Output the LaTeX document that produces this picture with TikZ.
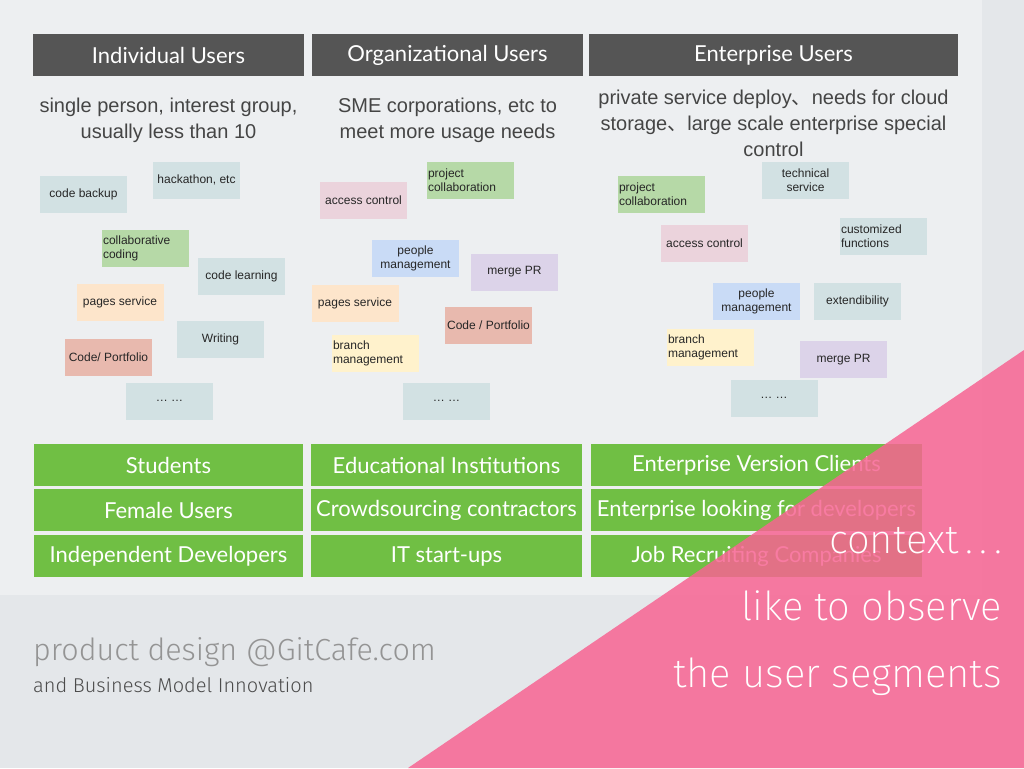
\documentclass[tikz,border=0pt]{standalone}
\usepackage{fontspec}
\setmainfont{Liberation Sans}
\newfontfamily\gill{Lato}
\newfontfamily\thinf{Fira Sans Light}
\newfontfamily\xthin{Fira Sans ExtraLight}
\newfontfamily\cjk{Noto Sans CJK SC}
\definecolor{bgout}{HTML}{E4E7EA}
\definecolor{slide}{HTML}{EDEFF1}
\definecolor{hdr}{HTML}{555555}
\definecolor{grn}{HTML}{70BF44}
\definecolor{nteal}{HTML}{D2E1E3}
\definecolor{ngreen}{HTML}{B6D9A7}
\definecolor{npeach}{HTML}{FDE5CB}
\definecolor{nsalmon}{HTML}{E8B9AE}
\definecolor{npink}{HTML}{EBD3DC}
\definecolor{nblue}{HTML}{C9DBF6}
\definecolor{npurple}{HTML}{DCD3E9}
\definecolor{nyellow}{HTML}{FFF2CC}
\definecolor{pnk}{HTML}{F76492}
\definecolor{desc}{HTML}{454545}
\tikzset{
  hdrbox/.style={fill=hdr, text=white, inner sep=0, minimum height=42, font=\gill\fontsize{22}{26}\selectfont},
  grnbox/.style={fill=grn, text=white, inner sep=0, minimum height=42, font=\gill\fontsize{22}{26}\selectfont},
  desctext/.style={text=desc, align=center, inner sep=0, font=\fontsize{20}{26}\selectfont},
  note/.style={inner sep=0, minimum width=87, minimum height=37, align=center, text=black!85, font=\fontsize{12}{14}\selectfont},
  lnote/.style={note, text width=85, align=left},
  pinktext/.style={text=white, anchor=base east, inner sep=0, font=\xthin\fontsize{40}{44}\selectfont},
}
\begin{document}
\begin{tikzpicture}[x=1pt, y=-1pt]
\useasboundingbox (0,0) rectangle (1024,768);
\fill[bgout] (0,0) rectangle (1024,768);
\fill[slide] (0,0) rectangle (982,595);
% headers
\node[hdrbox, minimum width=271] (h1) at (168.5,55) {Individual Users};
\node[hdrbox, minimum width=271] (h2) at (447.5,55) {Organizational Users};
\node[hdrbox, minimum width=369] (h3) at (773.5,55) {Enterprise Users};
% descriptions
\node[desctext] (d1) at (168.5,120) {single person, interest group,\\usually less than 10};
\node[desctext] (d2) at (447.5,120) {SME corporations, etc to\\meet more usage needs};
\node[desctext] (d3) at (773.5,123) {private service deploy{\cjk 、}needs for cloud\\storage{\cjk 、}large scale enterprise special\\control};
% column 1 notes
\node[note, fill=nteal] (n1a) at (83.5,194.5) {code backup};
\node[note, fill=nteal] (n1b) at (196.5,180) {hackathon, etc};
\node[lnote, fill=ngreen] (n1c) at (145.5,248.5) {collaborative\\coding};
\node[note, fill=nteal] (n1d) at (241.5,276.5) {code learning};
\node[note, fill=npeach] (n1e) at (120,302.5) {pages service};
\node[note, fill=nteal] (n1f) at (220.5,339.5) {Writing};
\node[note, fill=nsalmon] (n1g) at (108.5,357.5) {Code/ Portfolio};
\node[note, fill=nteal] (n1h) at (169.5,401) {\dots\ \dots};
% column 2 notes
\node[note, fill=npink] (n2a) at (363.5,200) {access control};
\node[lnote, fill=ngreen] (n2b) at (470.5,180) {project\\collaboration};
\node[note, fill=nblue] (n2c) at (415.5,258.5) {people\\management};
\node[note, fill=npurple] (n2d) at (514.5,272) {merge PR};
\node[note, fill=npeach] (n2e) at (355,303) {pages service};
\node[note, fill=nsalmon] (n2f) at (488.5,325.5) {Code / Portfolio};
\node[lnote, fill=nyellow] (n2g) at (375.5,353) {branch\\management};
\node[note, fill=nteal] (n2h) at (446.5,401) {\dots\ \dots};
% column 3 notes
\node[lnote, fill=ngreen] (n3a) at (661.5,194.5) {project\\collaboration};
\node[note, fill=nteal] (n3b) at (805.5,180) {technical\\service};
\node[note, fill=npink] (n3c) at (704.5,243) {access control};
\node[lnote, fill=nteal] (n3d) at (883.5,236) {customized\\functions};
\node[note, fill=nblue] (n3e) at (756.5,301) {people\\management};
\node[note, fill=nteal] (n3f) at (857.5,301) {extendibility};
\node[lnote, fill=nyellow] (n3g) at (710.5,347.5) {branch\\management};
\node[note, fill=npurple] (n3h) at (843.5,359.5) {merge PR};
\node[note, fill=nteal] (n3i) at (774,398) {\dots\ \dots};
% green boxes
\node[grnbox, minimum width=269] (g11) at (168.5,465) {Students};
\node[grnbox, minimum width=269] (g12) at (168.5,510) {Female Users};
\node[grnbox, minimum width=269] (g13) at (168.5,556) {Independent Developers};
\node[grnbox, minimum width=271] (g21) at (446.5,465) {Educational Institutions};
\node[grnbox, minimum width=271] (g22) at (446.5,510) {Crowdsourcing contractors};
\node[grnbox, minimum width=271] (g23) at (446.5,556) {IT start-ups};
\node[grnbox, minimum width=331] (g31) at (756.5,465) {Enterprise Version Clients};
\node[grnbox, minimum width=331] (g32) at (756.5,510) {Enterprise looking for developers};
\node[grnbox, minimum width=331] (g33) at (756.5,556) {Job Recruiting Companies};
% footer
\node[anchor=base west, inner sep=0, text=black!42, font=\thinf\fontsize{30.5}{33}\selectfont] (f1) at (33,660) {product design @GitCafe.com};
\node[anchor=base west, inner sep=0, text=black!70, font=\thinf\fontsize{20}{22}\selectfont] (f2) at (33,692) {and Business Model Innovation};
% pink triangle
\fill[pnk, fill opacity=0.85] (1024,350) -- (1024,768) -- (408,768) -- cycle;
\node[pinktext] (p1) at (1002,553) {context\,.\,.\,.};
\node[pinktext] (p2) at (1002,620) {like to observe};
\node[pinktext] (p3) at (1002,687) {the user segments};
\end{tikzpicture}
\end{document}
